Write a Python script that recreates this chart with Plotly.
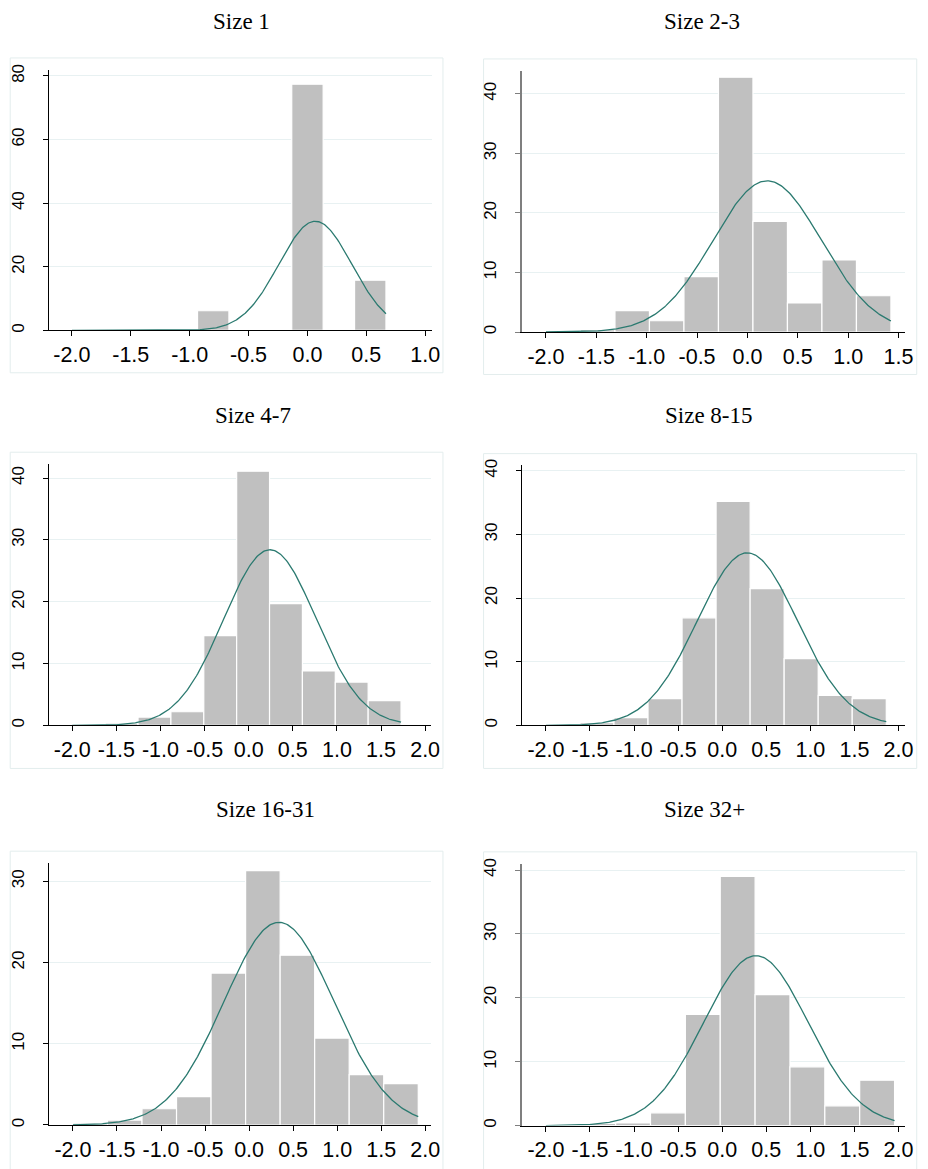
import numpy as np
import plotly.graph_objects as go

W, H = 928, 1169

# Panel titles
titles = ["Size 1", "Size 2-3", "Size 4-7", "Size 8-15", "Size 16-31", "Size 32+"]

# Histogram bins: 10 bins per panel starting at bin_start, equal width
bin_start = [-2.0, -2.0, -2.0, -2.0, -2.0, -2.0]
bin_width = [0.2667, 0.3425, 0.3727, 0.3861, 0.3921, 0.3955]

# Percent of observations in each bin
pct_size1 = [0, 0, 0, 0, 6.2, 0, 0, 77.4, 0, 15.8]
pct_size2_3 = [0, 0.4, 3.6, 1.9, 9.3, 42.8, 18.6, 4.9, 12.1, 6.1]
pct_size4_7 = [0, 0.37, 1.34, 2.2, 14.5, 41.1, 19.7, 8.8, 7.0, 4.0]
pct_size8_15 = [0.16, 0.42, 1.2, 4.2, 16.9, 35.2, 21.5, 10.5, 4.7, 4.2]
pct_size16_31 = [0.24, 0.61, 2.0, 3.5, 18.7, 31.3, 20.9, 10.7, 6.2, 5.1]
pct_size32 = [0, 0.36, 0.41, 2.0, 17.4, 39.0, 20.5, 9.2, 3.1, 7.1]
percents = [pct_size1, pct_size2_3, pct_size4_7, pct_size8_15, pct_size16_31, pct_size32]

# Fitted normal density parameters (mean, standard deviation)
norm_mean = [0.067, 0.196, 0.241, 0.285, 0.339, 0.382]
norm_sd = [0.310, 0.538, 0.5235, 0.568, 0.627, 0.593]

# Axis ranges and ticks
x_ranges = [[-2.196, 1.056], [-2.242, 1.566], [-2.266, 2.072],
            [-2.276, 2.075], [-2.274, 2.071], [-2.276, 2.075]]
y_ranges = [[0, 81.9], [0, 43.8], [0, 42.3], [0, 41.0], [0, 32.2], [0, 40.9]]
x_ticks = [[-2.0, -1.5, -1.0, -0.5, 0.0, 0.5, 1.0],
           [-2.0, -1.5, -1.0, -0.5, 0.0, 0.5, 1.0, 1.5],
           [-2.0, -1.5, -1.0, -0.5, 0.0, 0.5, 1.0, 1.5, 2.0],
           [-2.0, -1.5, -1.0, -0.5, 0.0, 0.5, 1.0, 1.5, 2.0],
           [-2.0, -1.5, -1.0, -0.5, 0.0, 0.5, 1.0, 1.5, 2.0],
           [-2.0, -1.5, -1.0, -0.5, 0.0, 0.5, 1.0, 1.5, 2.0]]
y_ticks = [[0, 20, 40, 60, 80], [0, 10, 20, 30, 40], [0, 10, 20, 30, 40],
           [0, 10, 20, 30, 40], [0, 10, 20, 30], [0, 10, 20, 30, 40]]

# Layout geometry in pixels: plot area (x0, x1, ytop, ybottom)
plot_px = [(49.3, 436.0, 64.3, 326.7), (526.7, 914.0, 65.7, 328.3),
           (49.3, 435.7, 461.0, 724.3), (526.7, 914.0, 461.7, 724.3),
           (49.3, 435.7, 863.3, 1126.7), (526.7, 914.0, 864.3, 1127.3)]
# Outer frame of each panel (x0, x1, ytop, ybottom)
frame_px = [(10.3, 447.3, 52.3, 369.3), (488.3, 925.7, 53.3, 371.0),
            (10.3, 447.3, 449.3, 767.7), (488.3, 925.7, 450.7, 767.7),
            (10.3, 447.3, 851.0, 1180.0), (488.3, 925.7, 851.7, 1180.0)]
title_px = [(244, 15.5), (709, 15.5), (255, 412), (715.7, 412), (268.3, 809), (711.5, 809)]
yline_style = [("#000000", 1), ("#7f7f7f", 2), ("#000000", 1),
               ("#000000", 1), ("#000000", 1), ("#7f7f7f", 2)]

BAR_COLOR = "#c0c0c0"
CURVE_COLOR = "#2b7a70"
GRID_COLOR = "#e8f1f2"
FRAME_COLOR = "#e3eded"


def px_x(v):
    return v / W


def px_y(v):
    return 1 - v / H


fig = go.Figure()
layout = dict(
    width=W, height=H, margin=dict(l=0, r=0, t=0, b=0),
    paper_bgcolor="white", plot_bgcolor="white", showlegend=False,
    font=dict(family="Liberation Sans, Arial, sans-serif", color="#000000"),
    shapes=[], annotations=[],
)

for i in range(6):
    n = i + 1
    xa = "x" if n == 1 else f"x{n}"
    ya = "y" if n == 1 else f"y{n}"
    start, w = bin_start[i], bin_width[i]
    pct = percents[i]
    edges = start + w * np.arange(len(pct) + 1)
    centers = (edges[:-1] + edges[1:]) / 2

    fig.add_trace(go.Bar(
        x=centers, y=pct, width=w, xaxis=xa, yaxis=ya,
        marker=dict(color=BAR_COLOR, line=dict(color="white", width=1.2)),
        hoverinfo="skip",
    ))

    xs = np.linspace(edges[0], edges[-1], 300)
    mu, sd = norm_mean[i], norm_sd[i]
    dens = 100 * w * np.exp(-0.5 * ((xs - mu) / sd) ** 2) / (sd * np.sqrt(2 * np.pi))
    fig.add_trace(go.Scatter(
        x=xs, y=dens, mode="lines", xaxis=xa, yaxis=ya,
        line=dict(color=CURVE_COLOR, width=1.3), hoverinfo="skip",
    ))

    x0, x1, yt, yb = plot_px[i]
    lc, lw = yline_style[i]
    layout["xaxis" if n == 1 else f"xaxis{n}"] = dict(
        domain=[px_x(x0), px_x(x1)], range=x_ranges[i], anchor=ya,
        tickmode="array", tickvals=x_ticks[i],
        ticktext=[f"{t:.1f}" for t in x_ticks[i]],
        ticks="outside", ticklen=5, tickwidth=1, tickcolor="#000000",
        showline=True, linecolor="#000000", linewidth=1,
        showgrid=False, zeroline=False,
        tickfont=dict(size=21.5, family="Liberation Sans, Arial, sans-serif"),
    )
    layout["yaxis" if n == 1 else f"yaxis{n}"] = dict(
        domain=[px_y(yb), px_y(yt)], range=y_ranges[i], anchor=xa,
        tickmode="array", tickvals=y_ticks[i], tickangle=-90,
        ticks="outside", ticklen=5, tickwidth=1, tickcolor=lc,
        showline=True, linecolor=lc, linewidth=lw,
        showgrid=True, gridcolor=GRID_COLOR, gridwidth=1, zeroline=False,
        ticklabelstandoff=12,
        tickfont=dict(size=17, family="Liberation Sans, Arial, sans-serif"),
    )

    fx0, fx1, fyt, fyb = frame_px[i]
    layout["shapes"].append(dict(
        type="rect", xref="paper", yref="paper", layer="below",
        x0=px_x(fx0), x1=px_x(fx1), y0=px_y(fyb), y1=px_y(fyt),
        line=dict(color=FRAME_COLOR, width=1), fillcolor="rgba(0,0,0,0)",
    ))

    tx, ty = title_px[i]
    layout["annotations"].append(dict(
        text=titles[i], xref="paper", yref="paper", x=px_x(tx), y=px_y(ty),
        xanchor="center", yanchor="middle", showarrow=False,
        font=dict(family="Liberation Serif, Times New Roman, serif", size=23, color="#000000"),
    ))

fig.update_layout(**layout)
fig.write_html("out.html")
